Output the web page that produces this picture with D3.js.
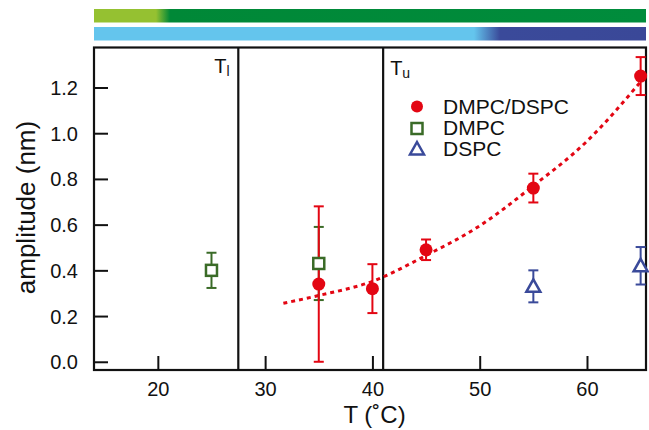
<!DOCTYPE html>
<html>
<head>
<meta charset="utf-8">
<script src="https://cdn.jsdelivr.net/npm/d3@7"></script>
<style>
body { margin: 0; background: #fff; }
text { font-family: "Liberation Sans", Arial, Helvetica, sans-serif; fill: #111; }
</style>
</head>
<body>
<script>
// data
var mixT = [35, 40, 45, 55, 65];
var mixAmp = [0.34, 0.32, 0.49, 0.76, 1.25];
var mixErr = [0.34, 0.107, 0.045, 0.063, 0.083];

var dmpcT = [25, 35];
var dmpcAmp = [0.40, 0.43];
var dmpcErr = [0.077, 0.16];

var dspcT = [55, 65];
var dspcAmp = [0.33, 0.42];
var dspcErr = [0.07, 0.082];

// dotted fit line
var fitT = [31.7, 35, 40, 45, 50, 55, 60, 65];
var fitAmp = [0.256, 0.29, 0.352, 0.465, 0.595, 0.77, 0.965, 1.225];

var transT = [27.5, 41.0]; // T_l, T_u
var xTicks = [20, 30, 40, 50, 60];
var yTicks = [0, 0.2, 0.4, 0.6, 0.8, 1.0, 1.2];

var red = "#e30613", green = "#3a6b27", blue = "#3a4a9a";

var width = 649, height = 430;
var svg = d3.select("body").append("svg").attr("width", width).attr("height", height);

var x = d3.scaleLinear().domain([14.05, 65.5]).range([94, 646]);
var y = d3.scaleLinear().domain([-0.036, 1.375]).range([370, 47.5]);

// phase colour bars
var defs = svg.append("defs");
var gG = defs.append("linearGradient").attr("id", "gbar");
gG.append("stop").attr("offset", (156 - 94) / 552).attr("stop-color", "#95c131");
gG.append("stop").attr("offset", (170 - 94) / 552).attr("stop-color", "#008837");
gG.append("stop").attr("offset", 1).attr("stop-color", "#008c3c");
var gB = defs.append("linearGradient").attr("id", "bbar");
gB.append("stop").attr("offset", (474 - 94) / 552).attr("stop-color", "#64c5ed");
gB.append("stop").attr("offset", (500 - 94) / 552).attr("stop-color", "#3a4a9a");
gB.append("stop").attr("offset", 1).attr("stop-color", "#3a4898");

svg.append("rect").attr("x", 94).attr("y", 9).attr("width", 552).attr("height", 13.5).attr("fill", "url(#gbar)");
svg.append("rect").attr("x", 94).attr("y", 27).attr("width", 552).attr("height", 13.5).attr("fill", "url(#bbar)");

// axes with inward ticks
var xAxis = svg.append("g").attr("transform", "translate(0,370)")
  .call(d3.axisBottom(x).tickValues(xTicks).tickSize(-14).tickPadding(26).tickFormat(d3.format("d")));
var yAxis = svg.append("g").attr("transform", "translate(94,0)")
  .call(d3.axisLeft(y).tickValues(yTicks).tickSize(-14).tickPadding(16).tickFormat(d3.format(".1f")));
[xAxis, yAxis].forEach(function (a) {
  a.select(".domain").remove();
  a.selectAll(".tick line").attr("stroke", "#111").attr("stroke-width", 2);
  a.selectAll(".tick text").style("font-size", "20px").attr("fill", "#111");
});
xAxis.selectAll(".tick text").attr("dy", "0");
yAxis.selectAll(".tick text").attr("dy", "0.35em");

// frame
svg.append("rect").attr("x", 94).attr("y", 47.5).attr("width", 552).attr("height", 322.5)
  .attr("fill", "none").attr("stroke", "#111").attr("stroke-width", 2.2);

// transition lines
svg.selectAll(".trans").data(transT).enter().append("line")
  .attr("x1", function (d) { return x(d); }).attr("x2", function (d) { return x(d); })
  .attr("y1", 47.5).attr("y2", 370).attr("stroke", "#111").attr("stroke-width", 2.2);

var tl = svg.append("text").attr("x", x(transT[0]) - 24).attr("y", 73).style("font-size", "20px").text("T");
tl.append("tspan").attr("dy", 3).style("font-size", "14px").text("l");
var tu = svg.append("text").attr("x", x(transT[1]) + 7).attr("y", 75).style("font-size", "20px").text("T");
tu.append("tspan").attr("dy", 3).style("font-size", "14px").text("u");

// fit line
svg.append("path").datum(d3.zip(fitT, fitAmp))
  .attr("d", d3.line().x(function (d) { return x(d[0]); }).y(function (d) { return y(d[1]); }).curve(d3.curveMonotoneX))
  .attr("fill", "none").attr("stroke", red).attr("stroke-width", 3).attr("stroke-dasharray", "4,4");

function errorBars(T, A, E, col) {
  var g = svg.append("g").attr("stroke", col).attr("stroke-width", 2);
  T.forEach(function (t, i) {
    var cx = x(t), lo = y(A[i] - E[i]), hi = y(A[i] + E[i]);
    g.append("line").attr("x1", cx).attr("x2", cx).attr("y1", lo).attr("y2", hi);
    g.append("line").attr("x1", cx - 5).attr("x2", cx + 5).attr("y1", lo).attr("y2", lo);
    g.append("line").attr("x1", cx - 5).attr("x2", cx + 5).attr("y1", hi).attr("y2", hi);
  });
}
errorBars(dmpcT, dmpcAmp, dmpcErr, green);
errorBars(dspcT, dspcAmp, dspcErr, blue);
errorBars(mixT, mixAmp, mixErr, red);

function square(sel, cx, cy) {
  sel.append("rect").attr("x", cx - 5.5).attr("y", cy - 5.5).attr("width", 11).attr("height", 11)
    .attr("fill", "#fff").attr("stroke", green).attr("stroke-width", 2.5);
}
function triangle(sel, cx, cy) {
  sel.append("path").attr("d", "M" + cx + "," + (cy - 7) + "L" + (cx + 7) + "," + (cy + 5.5) + "L" + (cx - 7) + "," + (cy + 5.5) + "Z")
    .attr("fill", "#fff").attr("stroke", blue).attr("stroke-width", 2.5);
}

dmpcT.forEach(function (t, i) { square(svg, x(t), y(dmpcAmp[i])); });
dspcT.forEach(function (t, i) { triangle(svg, x(t), y(dspcAmp[i])); });
svg.selectAll(".mix").data(d3.zip(mixT, mixAmp)).enter().append("circle")
  .attr("cx", function (d) { return x(d[0]); }).attr("cy", function (d) { return y(d[1]); })
  .attr("r", 6.5).attr("fill", red);

// legend
var lg = svg.append("g");
lg.append("circle").attr("cx", 417).attr("cy", 106.5).attr("r", 6).attr("fill", red);
square(lg, 417, 128.5);
triangle(lg, 417, 149);
["DMPC/DSPC", "DMPC", "DSPC"].forEach(function (s, i) {
  lg.append("text").attr("x", 443).attr("y", 106.5 + i * 21).attr("dy", "0.35em").style("font-size", "21px").text(s);
});

// axis titles
svg.append("text").attr("x", x(40.2)).attr("y", 423).attr("text-anchor", "middle").style("font-size", "24px").text("T (\u02DAC)");
svg.append("text").attr("transform", "translate(35,207.5) rotate(-90)").attr("text-anchor", "middle")
  .style("font-size", "26px").text("amplitude (nm)");
</script>
</body>
</html>
